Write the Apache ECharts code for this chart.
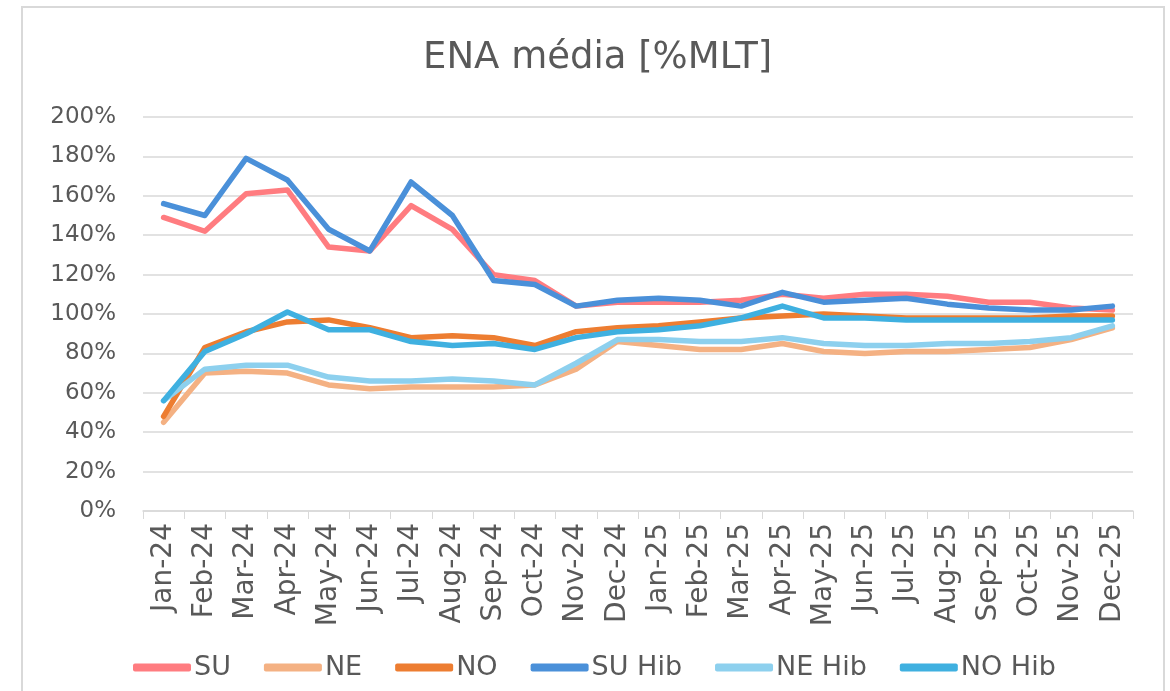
<!DOCTYPE html>
<html>
<head>
    <meta charset="utf-8">
    <title>ENA média</title>
    <script src="https://cdn.jsdelivr.net/npm/echarts@6/dist/echarts.min.js"></script>
    <style>
        html, body { margin: 0; padding: 0; background: #fff; }
        #frame { position: absolute; left: 21px; top: 6px; width: 1144px; height: 700px; border: 2px solid #d9d9d9; box-sizing: border-box; }
        #main { position: absolute; left: 0; top: 0; width: 1170px; height: 691px; }
    </style>
    <script type="text/javascript">
    // meses
    var months = ['Jan-24','Feb-24','Mar-24','Apr-24','May-24','Jun-24','Jul-24','Aug-24','Sep-24','Oct-24','Nov-24','Dec-24',
                  'Jan-25','Feb-25','Mar-25','Apr-25','May-25','Jun-25','Jul-25','Aug-25','Sep-25','Oct-25','Nov-25','Dec-25'];
    var yTicks = [0, 20, 40, 60, 80, 100, 120, 140, 160, 180, 200];

    // valores em %MLT
    var su    = [149, 142, 161, 163, 134, 132, 155, 143, 120, 117, 104, 106, 106, 106, 107, 110, 108, 110, 110, 109, 106, 106, 103, 102];
    var ne    = [45, 70, 71, 70, 64, 62, 63, 63, 63, 64, 72, 86, 84, 82, 82, 85, 81, 80, 81, 81, 82, 83, 87, 93];
    var no    = [48, 83, 91, 96, 97, 93, 88, 89, 88, 84, 91, 93, 94, 96, 98, 99, 100, 99, 98, 98, 98, 98, 99, 99];
    var suHib = [156, 150, 179, 168, 143, 132, 167, 150, 117, 115, 104, 107, 108, 107, 104, 111, 106, 107, 108, 105, 103, 102, 102, 104];
    var neHib = [56, 72, 74, 74, 68, 66, 66, 67, 66, 64, 75, 87, 87, 86, 86, 88, 85, 84, 84, 85, 85, 86, 88, 94];
    var noHib = [56, 81, 90, 101, 92, 92, 86, 84, 85, 82, 88, 91, 92, 94, 98, 104, 98, 98, 97, 97, 97, 97, 97, 97];

    var names  = ['SU', 'NE', 'NO', 'SU Hib', 'NE Hib', 'NO Hib'];
    var colors = ['#ff7c80', '#f4b183', '#ed7d31', '#4a90d9', '#8dd0ee', '#3fb0e0'];

    window.onload = function () {
        var data = [su, ne, no, suHib, neHib, noHib];
        var series = [];
        for (var i = 0; i < names.length; i++) {
            series.push({
                name: names[i],
                type: 'line',
                data: data[i],
                symbol: 'none',
                lineStyle: { width: 5.5, color: colors[i], cap: 'round', join: 'round' },
                itemStyle: { color: colors[i] }
            });
        }
        var option = {
            animation: false,
            title: {
                text: 'ENA média [%MLT]',
                left: 418,
                top: 35,
                textStyle: { fontFamily: 'DejaVu Sans', fontSize: 37, fontWeight: 'normal', color: '#595959' }
            },
            legend: {
                data: names,
                left: 128,
                top: 649,
                icon: 'roundRect',
                itemWidth: 58,
                itemHeight: 8,
                itemGap: 33,
                textStyle: { fontFamily: 'DejaVu Sans', fontSize: 27, color: '#595959', padding: [0, 0, 0, -2] }
            },
            grid: { left: 143, right: 37, top: 117, bottom: 180 },
            xAxis: {
                type: 'category',
                data: months,
                boundaryGap: true,
                axisLine: { lineStyle: { color: '#d9d9d9', width: 1.5 } },
                axisTick: { show: true, length: 8, lineStyle: { color: '#d9d9d9' } },
                axisLabel: { rotate: 90, interval: 0, margin: 12, fontFamily: 'DejaVu Sans', fontSize: 28, color: '#595959' }
            },
            yAxis: {
                type: 'value',
                min: yTicks[0],
                max: yTicks[yTicks.length - 1],
                interval: 20,
                axisLine: { show: false },
                axisTick: { show: false },
                splitLine: { lineStyle: { color: '#d9d9d9', width: 1.5 } },
                axisLabel: { margin: 27, fontFamily: 'DejaVu Sans', fontSize: 23, color: '#595959', formatter: '{value}%' }
            },
            series: series
        };
        var myChart = echarts.init(document.getElementById('main'));
        myChart.setOption(option);
    };
    </script>
</head>
<body>
    <div id="frame"></div>
    <div id="main"></div>
</body>
</html>
